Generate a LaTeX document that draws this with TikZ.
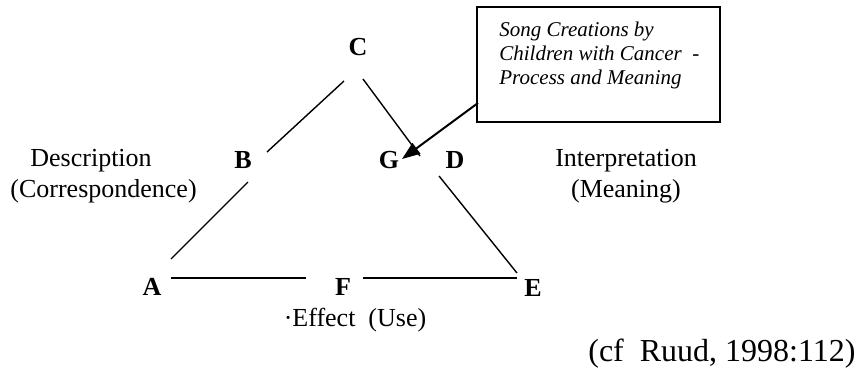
\documentclass[tikz,border=0pt]{standalone}
\usepackage{fontspec}
\setmainfont{Liberation Serif}
\usetikzlibrary{arrows.meta}
\begin{document}
\begin{tikzpicture}[x=0.5pt,y=-0.5pt,
  lbl/.style={inner sep=0pt,font=\fontsize{13}{15.6}\selectfont},
  letter/.style={inner sep=0pt,font=\fontsize{13}{15.6}\selectfont\bfseries},
  side/.style={line width=0.7pt},
  boxstyle/.style={draw,line width=1pt,inner sep=0pt,minimum width=121.5pt,minimum height=57.5pt},
  pointer/.style={line width=1pt,-{Triangle[length=9pt,width=6.5pt]}}]
\useasboundingbox (0,0) rectangle (859,370);
% letters
\node[letter] (C) at (358,47) {C};
\node[letter] (B) at (243,160) {B};
\node[letter] (G) at (389,160) {G};
\node[letter] (D) at (455,160) {D};
\node[letter] (A) at (152,287) {A};
\node[letter] (F) at (343,287) {F};
\node[letter] (E) at (533,288) {E};
% labels
\node[lbl,align=left,anchor=west] (desc) at (10,176) {\hspace{10pt}Description\\(Correspondence)};
\node[lbl,align=center] (interp) at (626,176) {Interpretation\\(Meaning)};
\node[lbl] (effect) at (355,320) {·Effect\ \ (Use)};
\node[inner sep=0pt,anchor=east,font=\fontsize{16}{19}\selectfont] (cite) at (856,354) {(cf\ \ Ruud, 1998:112)};
% box
\node[boxstyle] (box) at (598.5,64.5) {};
\node[inner sep=0pt,anchor=north west,align=left,font=\fontsize{10.5}{12}\selectfont\itshape] (boxtext) at (499,22) {Song Creations by\\Children with Cancer\ \ -\\Process and Meaning};
% side end points
\coordinate (cb1) at (344,81);
\coordinate (cb2) at (267,152);
\coordinate (ba1) at (248,182);
\coordinate (ba2) at (171,259);
\coordinate (af1) at (171,278);
\coordinate (af2) at (306,278);
\coordinate (fe1) at (363,278);
\coordinate (fe2) at (517,278);
\coordinate (cd1) at (363,79);
\coordinate (cd2) at (420,156);
\coordinate (de1) at (439,176);
\coordinate (de2) at (517,273);
\coordinate (arrowstart) at (478,103);
\coordinate (gtip) at (402,159);
% sides
\draw[side] (cb1) -- (cb2);
\draw[side] (ba1) -- (ba2);
\draw[side] (af1) -- (af2);
\draw[side] (fe1) -- (fe2);
\draw[side] (cd1) -- (cd2);
\draw[side] (de1) -- (de2);
% pointer
\draw[pointer] (arrowstart) -- (gtip);
\end{tikzpicture}
\end{document}
